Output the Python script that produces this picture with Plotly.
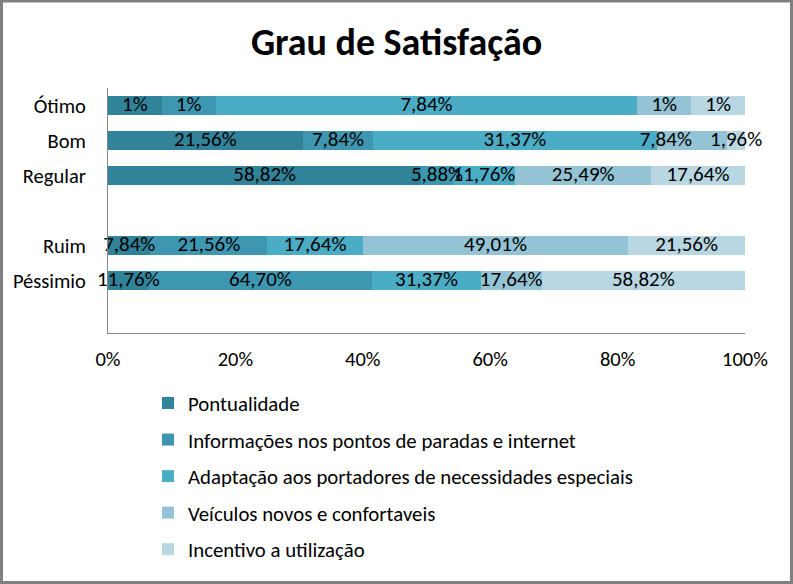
import plotly.graph_objects as go

categories = ["Ótimo", "Bom", "Regular", "Ruim", "Péssimio"]
category_order = ["Ótimo", "Bom", "Regular", " ", "Ruim", "Péssimio", "  "]

series_names = [
    "Pontualidade",
    "Informações nos pontos de paradas e internet",
    "Adaptação aos portadores de necessidades especiais",
    "Veículos novos e confortaveis",
    "Incentivo a utilização",
]

pontualidade = [1, 21.56, 58.82, 7.84, 11.76]
informacoes = [1, 7.84, 5.88, 21.56, 64.70]
adaptacao = [7.84, 31.37, 11.76, 17.64, 31.37]
veiculos = [1, 7.84, 25.49, 49.01, 17.64]
incentivo = [1, 1.96, 17.64, 21.56, 58.82]

series_values = [pontualidade, informacoes, adaptacao, veiculos, incentivo]
colors = ["#31839A", "#3D97B0", "#4BACC6", "#93C3D4", "#B8D7E3"]

x_tickvals = [0, 20, 40, 60, 80, 100]
x_ticktext = ["0%", "20%", "40%", "60%", "80%", "100%"]

FONT = "Calibri, Carlito, Lato, sans-serif"


def fmt(v):
    if float(v).is_integer():
        return f"{int(v)}%"
    return f"{v:.2f}".replace(".", ",") + "%"


fig = go.Figure()
for i, (name, vals, col) in enumerate(zip(series_names, series_values, colors)):
    fig.add_trace(
        go.Bar(
            y=categories,
            x=vals,
            name=name,
            orientation="h",
            marker=dict(color=col, line=dict(width=0)),
            textposition="none",
            legendgroup=f"g{i}",
            hoverinfo="skip",
        )
    )

# data labels drawn on top of all segments (as in the original), centred in each
# segment of the 100%-normalised stack
totals = [sum(col) for col in zip(*series_values)]
cum = [0.0] * len(categories)
for i, vals in enumerate(series_values):
    mids = []
    for j, v in enumerate(vals):
        share = v / totals[j] * 100
        mids.append(cum[j] + share / 2)
        cum[j] += share
    positions = ["middle center"] * len(vals)
    if i == 3:
        positions[1] = "middle left"  # label nudged left in the original (Bom)
    fig.add_trace(
        go.Scatter(
            x=mids,
            y=categories,
            mode="text",
            text=[fmt(v) for v in vals],
            textposition=positions,
            textfont=dict(family=FONT, size=21, color="#000000"),
            showlegend=False,
            cliponaxis=False,
            hoverinfo="skip",
        )
    )

W, H = 793, 584
L, R, T, B = 108, 48, 88, 251
pw, ph = W - L - R, H - T - B

fig.update_layout(
    width=W,
    height=H,
    barmode="stack",
    barnorm="percent",
    bargap=0.43,
    margin=dict(l=L, r=R, t=T, b=B, pad=0),
    paper_bgcolor="white",
    plot_bgcolor="white",
    font=dict(family=FONT, size=20.5, color="#000000"),
    title=dict(
        text="<b>Grau de Satisfação</b>",
        x=0.5,
        xref="container",
        xanchor="center",
        y=1 - 42 / H,
        yanchor="middle",
        yref="container",
        font=dict(family=FONT, size=38, color="#000000"),
    ),
    xaxis=dict(
        range=[0, 100],
        tickvals=x_tickvals,
        ticktext=x_ticktext,
        showgrid=False,
        zeroline=False,
        showline=True,
        linecolor="#868686",
        linewidth=1,
        ticks="",
        ticklabelstandoff=7,
        tickfont=dict(family=FONT, size=20.5),
        fixedrange=True,
    ),
    yaxis=dict(
        type="category",
        categoryorder="array",
        categoryarray=category_order,
        range=[len(category_order) - 0.5, -0.5],
        showgrid=False,
        zeroline=False,
        showline=True,
        linecolor="#868686",
        linewidth=1,
        ticks="",
        ticklabelstandoff=17,
        tickfont=dict(family=FONT, size=20.5),
        fixedrange=True,
    ),
    legend=dict(
        orientation="v",
        x=(148 - L) / pw,
        xanchor="left",
        y=-(383 - (H - B)) / ph,
        yanchor="top",
        traceorder="grouped",
        tracegroupgap=6.5,
        font=dict(family=FONT, size=20.8, color="#000000"),
        bgcolor="rgba(0,0,0,0)",
    ),
    showlegend=True,
)

# outer chart border
fig.add_shape(
    type="rect",
    xref="paper",
    yref="paper",
    x0=(1.5 - L) / pw,
    x1=(W - 1.5 - L) / pw,
    y0=-(B - 1.5) / ph,
    y1=(ph + T - 1) / ph,
    line=dict(color="#808080", width=3),
    fillcolor="rgba(0,0,0,0)",
    layer="above",
)

fig.write_html("out.html", config={"displayModeBar": False})
